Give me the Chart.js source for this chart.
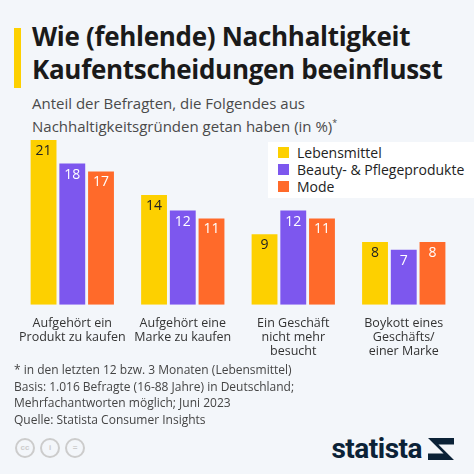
<!DOCTYPE html>
<html><head><meta charset="utf-8">
<script src="https://cdn.jsdelivr.net/npm/chart.js@4"></script>
<style>
body{margin:0;width:474px;height:474px;background:#f3f6fa;font-family:"Open Sans",sans-serif;position:relative;overflow:hidden}
.bar{position:absolute;left:14px;top:28px;width:7px;height:60px;background:#fdd000}
h1{position:absolute;left:32px;top:20px;margin:0;font:700 26px/33px "Open Sans",sans-serif;color:#1a1a1a;letter-spacing:-0.3px}
.sub{position:absolute;left:32px;top:94px;font:15px/19px "Open Sans",sans-serif;color:#4a4a4a}
.sub sup{font-size:9px}
#wrap{position:absolute;left:15px;top:130px;width:444px;height:232px}
.leg{position:absolute;left:268px;top:142px;width:206px;height:56px;background:#fff;padding:2px 0 0 10px;box-sizing:border-box;font:14px/17px "Open Sans",sans-serif;color:#222}
.leg div{display:flex;align-items:center}
.leg i{display:inline-block;width:11px;height:11px;margin-right:8px}
.notes{position:absolute;left:14px;top:362px;font:12px/16.5px "Open Sans",sans-serif;color:#444}
.cc{position:absolute;left:15px;top:438px;display:flex;gap:5px}
.cc span{width:20px;height:20px;border:2px solid #ccc;border-radius:50%;box-sizing:border-box;font:bold 8px/16px sans-serif;color:#ccc;text-align:center}
.logo{position:absolute;right:20px;top:434px;font:700 28px/30px "Roboto",sans-serif;color:#0b2237;display:flex;align-items:center;gap:6px;letter-spacing:-0.5px}
.logo b{width:26px;height:22px;background:#0b2237;display:inline-block;clip-path:polygon(0 0,100% 0,100% 30%,40% 30%,100% 100%,0 100%,0 70%,60% 70%,0 0)}
</style></head><body>
<div class="bar"></div>
<h1>Wie (fehlende) Nachhaltigkeit<br>Kaufentscheidungen beeinflusst</h1>
<div class="sub">Anteil der Befragten, die Folgendes aus<br>Nachhaltigkeitsgründen getan haben (in %)<sup>*</sup></div>
<div id="wrap"><canvas id="c"></canvas></div>
<div class="leg">
<div><i style="background:#fdd000"></i>Lebensmittel</div>
<div><i style="background:#7d57ee"></i>Beauty- &amp; Pflegeprodukte</div>
<div><i style="background:#ff6a2a"></i>Mode</div>
</div>
<div class="notes">* in den letzten 12 bzw. 3 Monaten (Lebensmittel)<br>Basis: 1.016 Befragte (16-88 Jahre) in Deutschland;<br>Mehrfachantworten möglich; Juni 2023<br>Quelle: Statista Consumer Insights</div>
<div class="cc"><span>cc</span><span>i</span><span>=</span></div>
<div class="logo">statista<b></b></div>
<script>
const categories = [['Aufgehört ein','Produkt zu kaufen'],['Aufgehört eine','Marke zu kaufen'],['Ein Geschäft','nicht mehr','besucht'],['Boykott eines','Geschäfts/','einer Marke']];
const lebensmittel = [21, 14, 9, 8];
const beauty = [18, 12, 12, 7];
const mode = [17, 11, 11, 8];

const labelPlugin = {
  id:'labels',
  afterDatasetsDraw(chart){
    const ctx = chart.ctx;
    ctx.save();
    ctx.font = '14px "Open Sans", sans-serif';
    ctx.textAlign = 'center'; ctx.textBaseline = 'top';
    chart.data.datasets.forEach((ds,i)=>{
      chart.getDatasetMeta(i).data.forEach((bar,j)=>{
        ctx.fillStyle = i===0 ? '#222' : '#fff';
        ctx.fillText(ds.data[j], bar.x, bar.y+4);
      });
    });
    ctx.restore();
  }
};

new Chart(document.getElementById('c'),{
  type:'bar',
  data:{labels:categories,datasets:[
    {label:'Lebensmittel',data:lebensmittel,backgroundColor:'#fdd000'},
    {label:'Beauty- & Pflegeprodukte',data:beauty,backgroundColor:'#7d57ee'},
    {label:'Mode',data:mode,backgroundColor:'#ff6a2a'}
  ]},
  options:{
    responsive:true,maintainAspectRatio:false,animation:false,
    layout:{padding:{top:10}},
    categoryPercentage:0.78,barPercentage:0.9,
    plugins:{legend:{display:false},tooltip:{enabled:false}},
    scales:{
      y:{display:false,min:0,max:21},
      x:{grid:{display:false},border:{display:false},
         ticks:{color:'#333',font:{family:'"Open Sans", sans-serif',size:12.5,lineHeight:1.1},padding:4,
                maxRotation:0,minRotation:0,autoSkip:false}}
    }
  },
  plugins:[labelPlugin]
});
</script>
</body></html>
